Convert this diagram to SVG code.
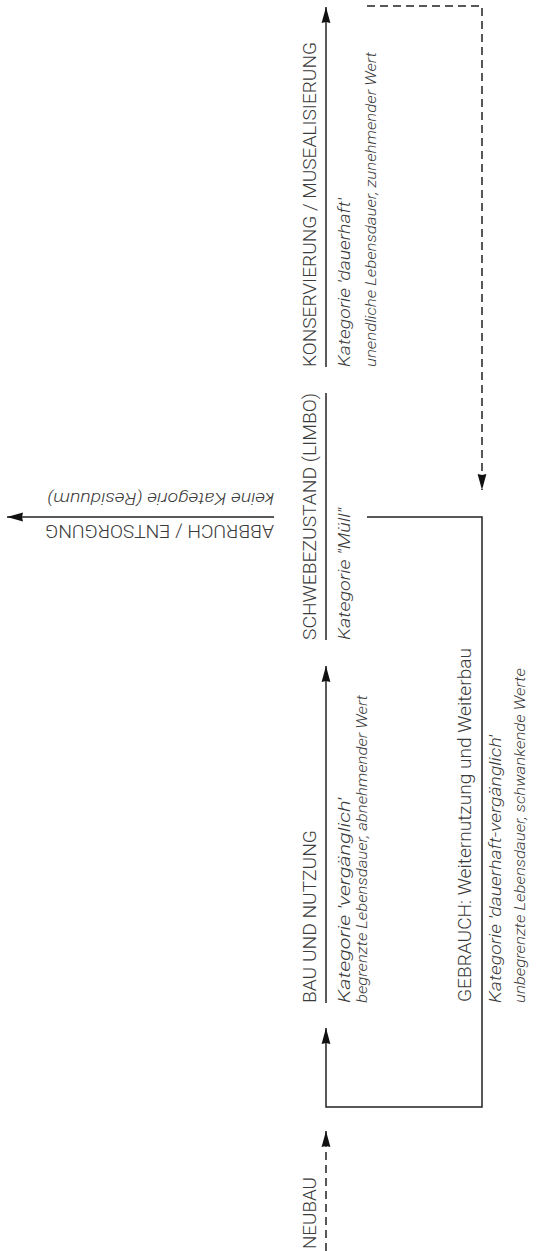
<svg xmlns="http://www.w3.org/2000/svg" width="536" height="1251" viewBox="0 0 536 1251">
<style>
.t{font-family:Roboto,"Liberation Sans",sans-serif;font-weight:300;fill:#3a3a3a;}
.h{font-size:17.5px;}
.k{font-size:17px;font-style:italic;}
.s{font-size:14.5px;font-style:italic;}
.ln{fill:none;stroke:#222;stroke-width:1.5;}
.ds{fill:none;stroke:#222;stroke-width:1.5;stroke-dasharray:8 5;}
</style>
<defs>
<marker id="ah" markerUnits="userSpaceOnUse" markerWidth="18" markerHeight="10" refX="16" refY="5" orient="auto" viewBox="0 0 18 10">
<path d="M16,5 L0,0.6 L1,5 L0,9.4 Z" fill="#111"/>
</marker>
</defs>
<rect width="536" height="1251" fill="#fff"/>
<g id="connectors">
<path class="ds" d="M326,1251 V1131" marker-end="url(#ah)"/>
<path class="ln" d="M367,517 H482 V1107 H326 V1028" marker-end="url(#ah)"/>
<path class="ln" d="M326,1003 V666" marker-end="url(#ah)"/>
<path class="ln" d="M326,640 V393"/>
<path class="ln" d="M326,367 V7" marker-end="url(#ah)"/>
<path class="ds" d="M367,6 H482 V490" marker-end="url(#ah)"/>
<path class="ln" d="M274,517 H7" marker-end="url(#ah)"/>
</g>
<g id="neubau">
<text class="t h" transform="translate(316,1249) rotate(-90)" textLength="72" lengthAdjust="spacingAndGlyphs">NEUBAU</text>
</g>
<g id="bau">
<text class="t h" transform="translate(316,1003) rotate(-90)" textLength="173" lengthAdjust="spacingAndGlyphs">BAU UND NUTZUNG</text>
<text class="t k" transform="translate(350,1003) rotate(-90)" textLength="205" lengthAdjust="spacingAndGlyphs">Kategorie 'vergänglich'</text>
<text class="t s" transform="translate(367,1003) rotate(-90)" textLength="308" lengthAdjust="spacingAndGlyphs">begrenzte Lebensdauer, abnehmender Wert</text>
</g>
<g id="gebrauch">
<text class="t h" transform="translate(471,1002) rotate(-90)" textLength="354" lengthAdjust="spacingAndGlyphs">GEBRAUCH: Weiternutzung und Weiterbau</text>
<text class="t k" transform="translate(501,1003) rotate(-90)" textLength="268" lengthAdjust="spacingAndGlyphs">Kategorie 'dauerhaft-vergänglich'</text>
<text class="t s" transform="translate(525,1003) rotate(-90)" textLength="335" lengthAdjust="spacingAndGlyphs">unbegrenzte Lebensdauer, schwankende Werte</text>
</g>
<g id="schwebe">
<text class="t h" transform="translate(316,640) rotate(-90)" textLength="247" lengthAdjust="spacingAndGlyphs">SCHWEBEZUSTAND (LIMBO)</text>
<text class="t k" transform="translate(350,640) rotate(-90)" textLength="132" lengthAdjust="spacingAndGlyphs">Kategorie "Müll"</text>
</g>
<g id="konservierung">
<text class="t h" transform="translate(316,367) rotate(-90)" textLength="325" lengthAdjust="spacingAndGlyphs">KONSERVIERUNG / MUSEALISIERUNG</text>
<text class="t k" transform="translate(350,367) rotate(-90)" textLength="169" lengthAdjust="spacingAndGlyphs">Kategorie 'dauerhaft'</text>
<text class="t s" transform="translate(376,367) rotate(-90)" textLength="315" lengthAdjust="spacingAndGlyphs">unendliche Lebensdauer, zunehmender Wert</text>
</g>
<g id="abbruch">
<text class="t h" transform="translate(274,525) rotate(180)" textLength="229" lengthAdjust="spacingAndGlyphs">ABBRUCH / ENTSORGUNG</text>
<text class="t k" transform="translate(274,493) rotate(180)" textLength="227" lengthAdjust="spacingAndGlyphs">keine Kategorie (Residuum)</text>
</g>
</svg>
